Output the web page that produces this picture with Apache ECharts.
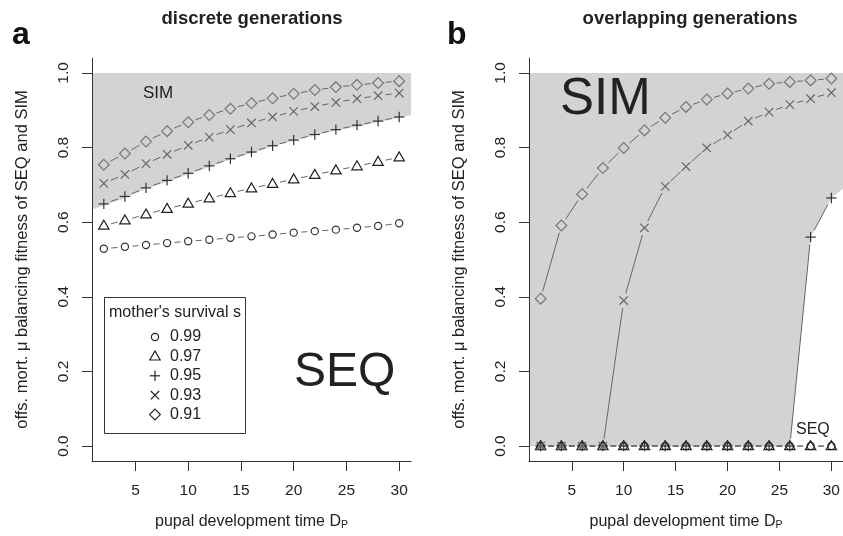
<!DOCTYPE html>
<html><head><meta charset="utf-8">
<script src="https://cdn.jsdelivr.net/npm/echarts@6/dist/echarts.min.js"></script>
<style>html,body{margin:0;padding:0;background:#fff}#c{width:843px;height:536px}</style>
</head><body><div id="c"></div>
<script>
const FONT = "'Liberation Sans', Arial, Helvetica, sans-serif";

// ---- data ----
const pupalTime = [2, 4, 6, 8, 10, 12, 14, 16, 18, 20, 22, 24, 26, 28, 30];
const survivalLabels = ['0.99', '0.97', '0.95', '0.93', '0.91'];
const xTicks = [5, 10, 15, 20, 25, 30];
const yTicks = [0, 0.2, 0.4, 0.6, 0.8, 1.0];

// panel a: discrete generations
const discS099 = [0.529, 0.534, 0.539, 0.544, 0.549, 0.553, 0.558, 0.562, 0.567, 0.572, 0.576, 0.580, 0.585, 0.590, 0.597];
const discS097 = [0.591, 0.605, 0.621, 0.636, 0.650, 0.664, 0.678, 0.691, 0.703, 0.715, 0.727, 0.739, 0.750, 0.762, 0.774];
const discS095 = [0.649, 0.669, 0.692, 0.712, 0.731, 0.751, 0.770, 0.788, 0.805, 0.820, 0.835, 0.848, 0.860, 0.871, 0.882];
const discS093 = [0.704, 0.728, 0.757, 0.782, 0.806, 0.828, 0.848, 0.866, 0.882, 0.897, 0.910, 0.921, 0.931, 0.939, 0.946];
const discS091 = [0.754, 0.784, 0.816, 0.844, 0.868, 0.887, 0.904, 0.919, 0.932, 0.944, 0.954, 0.962, 0.968, 0.973, 0.978];
// SIM region boundary (panel a)
const discShadeX = [0.88, 2, 4, 6, 8, 10, 12, 14, 16, 18, 20, 22, 24, 26, 28, 30, 31.12];
const discShadeY = [0.634, 0.645, 0.664, 0.690, 0.708, 0.728, 0.748, 0.768, 0.785, 0.803, 0.819, 0.832, 0.846, 0.856, 0.868, 0.879, 0.887];

// panel b: overlapping generations
const overS099 = [0, 0, 0, 0, 0, 0, 0, 0, 0, 0, 0, 0, 0, 0, 0];
const overS097 = [0, 0, 0, 0, 0, 0, 0, 0, 0, 0, 0, 0, 0, 0, 0];
const overS095 = [0, 0, 0, 0, 0, 0, 0, 0, 0, 0, 0, 0, 0, 0.560, 0.665];
const overS093 = [0, 0, 0, 0, 0.390, 0.585, 0.696, 0.749, 0.799, 0.834, 0.871, 0.895, 0.915, 0.931, 0.947];
const overS091 = [0.395, 0.591, 0.675, 0.745, 0.799, 0.846, 0.880, 0.909, 0.929, 0.945, 0.958, 0.971, 0.976, 0.980, 0.985];
// SIM region boundary (panel b)
const overShadeX = [0.88, 26, 28, 30, 31.12];
const overShadeY = [0, 0, 0.560, 0.665, 0.690];
const shadeTop = 1.0;

// ---- styling ----
const kinds = ['circle', 'triangle', 'plus', 'cross', 'diamond'];
const markColors = ['#333', '#222', '#333', '#666', '#777'];
const lineColor = '#666';
const shadeColor = '#d3d3d3';

function marker(kind, x, y, color, lw, z) {
  const st = { fill: 'none', stroke: color, lineWidth: lw };
  const zz = z === undefined ? {} : { z: z, silent: true };
  switch (kind) {
    case 'circle': return Object.assign({ type: 'circle', shape: { cx: x, cy: y, r: 3.6 }, style: st }, zz);
    case 'triangle': return Object.assign({ type: 'polygon', shape: { points: [[x, y - 5.4], [x - 5.2, y + 3.6], [x + 5.2, y + 3.6]] }, style: st }, zz);
    case 'plus': return Object.assign({ type: 'group', children: [
      Object.assign({ type: 'line', shape: { x1: x - 5.2, y1: y, x2: x + 5.2, y2: y }, style: st }, zz),
      Object.assign({ type: 'line', shape: { x1: x, y1: y - 5.2, x2: x, y2: y + 5.2 }, style: st }, zz)] }, zz);
    case 'cross': return Object.assign({ type: 'group', children: [
      Object.assign({ type: 'line', shape: { x1: x - 4.2, y1: y - 4.2, x2: x + 4.2, y2: y + 4.2 }, style: st }, zz),
      Object.assign({ type: 'line', shape: { x1: x - 4.2, y1: y + 4.2, x2: x + 4.2, y2: y - 4.2 }, style: st }, zz)] }, zz);
    default: return Object.assign({ type: 'polygon', shape: { points: [[x, y - 5.4], [x + 5.4, y], [x, y + 5.4], [x - 5.4, y]] }, style: st }, zz);
  }
}

function markSeries(gi, xs, ys, kind, color, name) {
  return {
    type: 'custom', name: name, xAxisIndex: gi, yAxisIndex: gi, z: 3, silent: true,
    data: xs.map((x, i) => [x, ys[i]]),
    encode: { x: 0, y: 1 },
    renderItem(params, api) {
      const i = params.dataIndex;
      const p = api.coord([api.value(0), api.value(1)]);
      const children = [];
      if (i < xs.length - 1) {
        const q = api.coord([xs[i + 1], ys[i + 1]]);
        const dx = q[0] - p[0], dy = q[1] - p[1], d = Math.hypot(dx, dy), g = 7.5;
        if (d > 2 * g + 1) {
          const ux = dx / d, uy = dy / d;
          children.push({ type: 'line', shape: { x1: p[0] + ux * g, y1: p[1] + uy * g, x2: q[0] - ux * g, y2: q[1] - uy * g },
            style: { stroke: lineColor, lineWidth: 1 } });
        }
      }
      children.push(marker(kind, p[0], p[1], color, 1.2));
      return { type: 'group', children };
    }
  };
}

function shadeSeries(gi, bx, by) {
  return {
    type: 'custom', xAxisIndex: gi, yAxisIndex: gi, z: 1, silent: true,
    data: [[bx[0], by[0]]],
    encode: { x: 0, y: 1 },
    renderItem(params, api) {
      const pts = [api.coord([bx[0], shadeTop]), api.coord([bx[bx.length - 1], shadeTop])];
      for (let i = bx.length - 1; i >= 0; i--) pts.push(api.coord([bx[i], by[i]]));
      return { type: 'polygon', shape: { points: pts }, style: { fill: shadeColor, stroke: 'none' } };
    }
  };
}

const axisCol = '#333';
function xAxisDef(gi) {
  return {
    type: 'value', gridIndex: gi, min: 0.88, max: 31.12, z: 10,
    axisLine: { show: true, onZero: false, lineStyle: { color: axisCol, width: 1 } },
    axisTick: { show: true, length: 10, customValues: xTicks, lineStyle: { color: axisCol } },
    axisLabel: { customValues: xTicks, margin: 22, fontSize: 15.5, fontFamily: FONT, color: '#222' },
    splitLine: { show: false },
    name: '{n|pupal development time D}{s|P}', nameLocation: 'middle', nameGap: 52,
    nameTextStyle: { color: '#222', rich: {
      n: { fontSize: 16, fontFamily: FONT, color: '#222' },
      s: { fontSize: 10.5, fontFamily: FONT, color: '#222', padding: [7, 0, 0, 0] } } }
  };
}
function yAxisDef(gi) {
  return {
    type: 'value', gridIndex: gi, min: -0.04, max: 1.04, z: 10,
    axisLine: { show: true, onZero: false, lineStyle: { color: axisCol, width: 1 } },
    axisTick: { show: true, length: 10, customValues: yTicks, lineStyle: { color: axisCol } },
    axisLabel: { customValues: yTicks, rotate: 90, margin: 20, fontSize: 15.5, fontFamily: FONT, color: '#222',
      formatter: v => v.toFixed(1) },
    splitLine: { show: false },
    name: 'offs. mort. \u03bc balancing fitness of SEQ and SIM', nameLocation: 'middle', nameGap: 61,
    nameTextStyle: { fontSize: 16.5, fontFamily: FONT, color: '#222' }
  };
}

const discSets = [discS099, discS097, discS095, discS093, discS091];
const overSets = [overS099, overS097, overS095, overS093, overS091];

const series = [shadeSeries(0, discShadeX, discShadeY), shadeSeries(1, overShadeX, overShadeY)];
discSets.forEach((ys, k) => series.push(markSeries(0, pupalTime, ys, kinds[k], markColors[k], survivalLabels[k])));
overSets.forEach((ys, k) => series.push(markSeries(1, pupalTime, ys, kinds[k], markColors[k], survivalLabels[k])));

function txt(x, y, text, size, opts) {
  return { type: 'text', x: x, y: y, z: 20, silent: true,
    style: Object.assign({ text: text, fontSize: size, fontFamily: FONT, fill: '#222', align: 'left', verticalAlign: 'middle' }, opts || {}) };
}

const legendEls = [
  { type: 'rect', shape: { x: 104.5, y: 297.5, width: 141, height: 136 }, style: { fill: '#fff', stroke: '#333', lineWidth: 1 }, z: 15, silent: true },
  txt(175, 313, "mother's survival s", 16, { align: 'center' })
];
survivalLabels.forEach((lab, k) => {
  const y = 337 + k * 19.4;
  legendEls.push(marker(kinds[k], 155, y, '#222', 1.2, 20));
  legendEls.push(txt(170, y, lab, 16));
});

const option = {
  backgroundColor: '#fff',
  animation: false,
  grid: [
    { left: 92, top: 58, width: 319, height: 404 },
    { left: 529, top: 58, width: 317, height: 404 }
  ],
  xAxis: [xAxisDef(0), xAxisDef(1)],
  yAxis: [yAxisDef(0), yAxisDef(1)],
  series: series,
  graphic: { elements: [
    txt(12, 35, 'a', 32, { fontWeight: 'bold', fill: '#111' }),
    txt(447, 35, 'b', 32, { fontWeight: 'bold', fill: '#111' }),
    txt(252, 19, 'discrete generations', 18.5, { fontWeight: 'bold', align: 'center' }),
    txt(690, 19, 'overlapping generations', 18.5, { fontWeight: 'bold', align: 'center' }),
    txt(143, 93, 'SIM', 17),
    txt(294, 373, 'SEQ', 48),
    txt(560, 100, 'SIM', 51),
    txt(796, 430, 'SEQ', 16)
  ].concat(legendEls) }
};

const chart = echarts.init(document.getElementById('c'), null, { renderer: 'canvas' });
chart.setOption(option);
</script>
</body></html>
